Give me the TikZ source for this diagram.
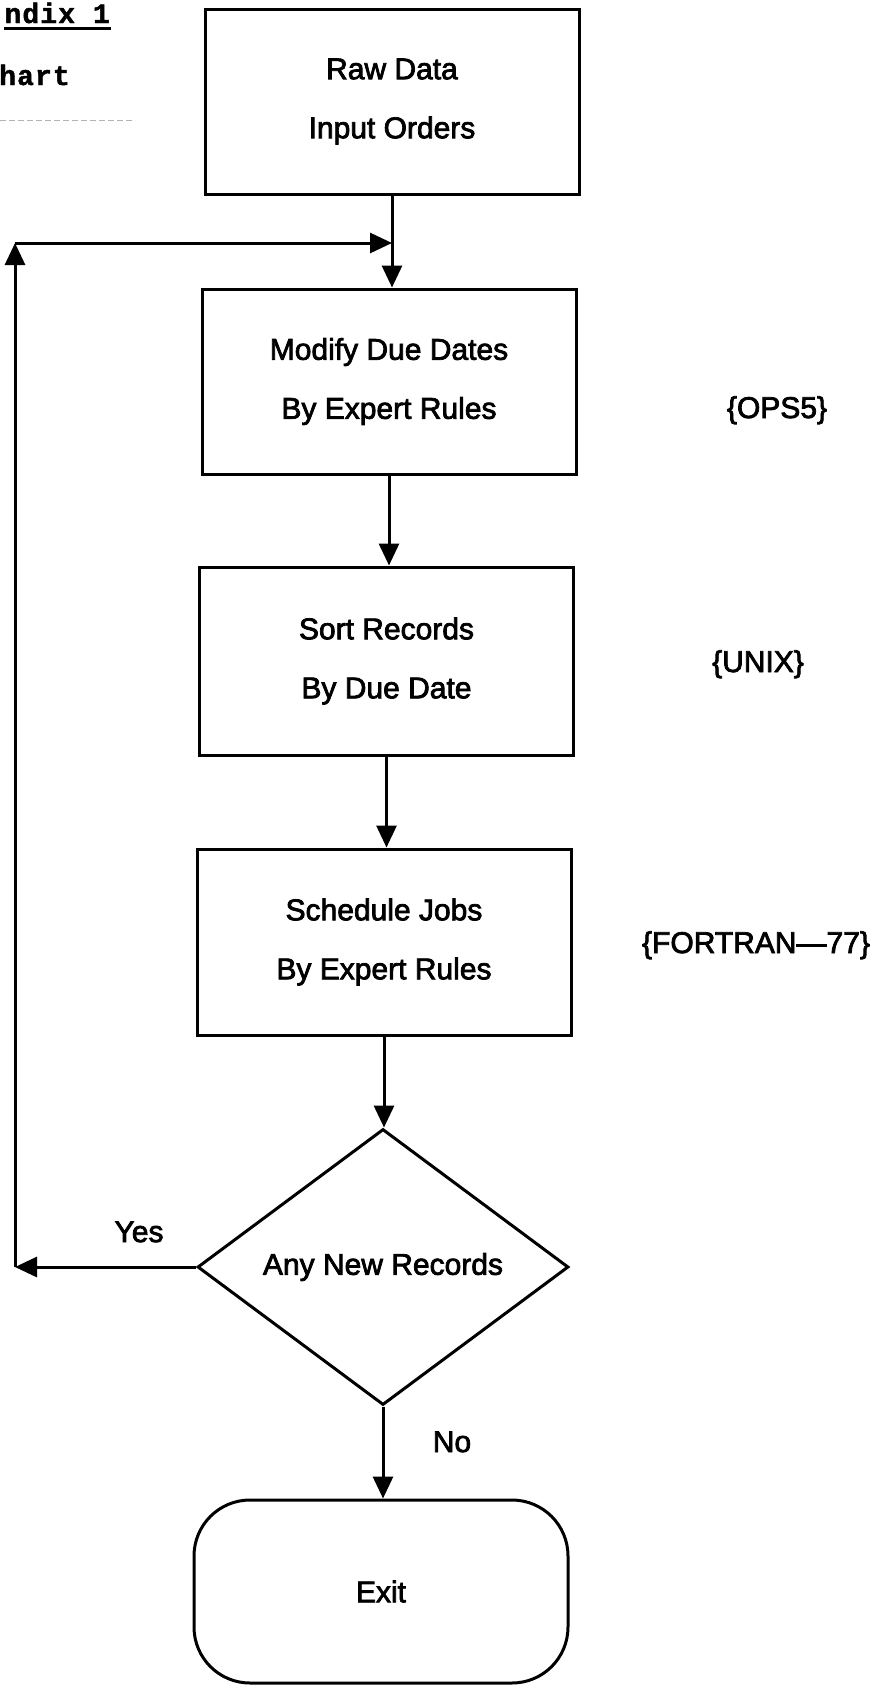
\documentclass[tikz,border=0pt]{standalone}
\usepackage{fontspec}
\setmainfont{Liberation Sans}[FakeBold=2.5]
\newfontfamily\typer[LetterSpace=4]{Liberation Mono}[FakeBold=1.5]
\usetikzlibrary{arrows.meta,shapes.geometric}

\begin{document}
\begin{tikzpicture}[x=1pt,y=-1pt,
  every node/.style={font=\fontsize{30}{59}\selectfont},
  procbox/.style={draw, line width=3pt, rectangle, minimum width=374pt,
    minimum height=185pt, align=center, inner sep=0pt},
  decide/.style={draw, line width=3pt, diamond, minimum width=371pt,
    minimum height=276pt, inner sep=0pt},
  termbox/.style={draw, line width=3pt, rectangle, rounded corners=56pt,
    minimum width=374pt, minimum height=183pt, inner sep=0pt},
  flowarrow/.style={line width=3pt, -{Triangle[length=22pt,width=20pt]}},
  sidenote/.style={anchor=base, inner sep=0pt},
  header/.style={anchor=base east, inner sep=0pt,
    font=\typer\bfseries\fontsize{28}{28}\selectfont},
]
\useasboundingbox (0,0) rectangle (876,1687);

% heading at the top left
\node[header] (hd) at (110,23) {ndix 1};
\draw[line width=3pt] ([yshift=-5pt]hd.base west) -- ([yshift=-5pt,xshift=1pt]hd.base east);
\node[header] (ch) at (70,85) {hart};
\draw[gray!60, line width=1pt, dash pattern=on 6pt off 3pt] (0,120) -- (135,120);

% process steps
\node[procbox] (b1) at (392,101.5) {Raw Data\\Input Orders};
\node[procbox] (b2) at (389,381.5) {Modify Due Dates\\By Expert Rules};
\node[procbox, minimum height=188pt] (b3) at (386.5,661) {Sort Records\\By Due Date};
\node[procbox, minimum height=186pt] (b4) at (384,942) {Schedule Jobs\\By Expert Rules};
\node[decide] (d) at (383,1267) {Any New Records};
\node[termbox] (ex) at (381,1591.5) {Exit};

% tools used by each step
\node[sidenote] (ops) at (777,418) {\{OPS5\}};
\node[sidenote] (unix) at (758,672) {\{UNIX\}};
\node[sidenote] (fort) at (756,953) {\{FORTRAN---77\}};

% main flow
\draw[flowarrow] (b1.south) -- (b1.south |- b2.north);
\draw[flowarrow] (b2.south) -- (b2.south |- b3.north);
\draw[flowarrow] (b3.south) -- (b3.south |- b4.north);
\draw[flowarrow] (b4.south) -- (b4.south |- d.north);
\draw[flowarrow] (d.south) -- (d.south |- ex.north);

% loop back when new records arrive
\coordinate (cb) at (15,1267);
\coordinate (ct) at (15,243);
\coordinate (j) at (b1.south |- ct);
\draw[flowarrow] (d.west) -- (cb);
\draw[flowarrow] (cb) -- (ct);
\draw[flowarrow] (ct) -- (j);

\node[sidenote] (yes) at (139,1242) {Yes};
\node[sidenote] (no) at (452,1452) {No};
\end{tikzpicture}
\end{document}
